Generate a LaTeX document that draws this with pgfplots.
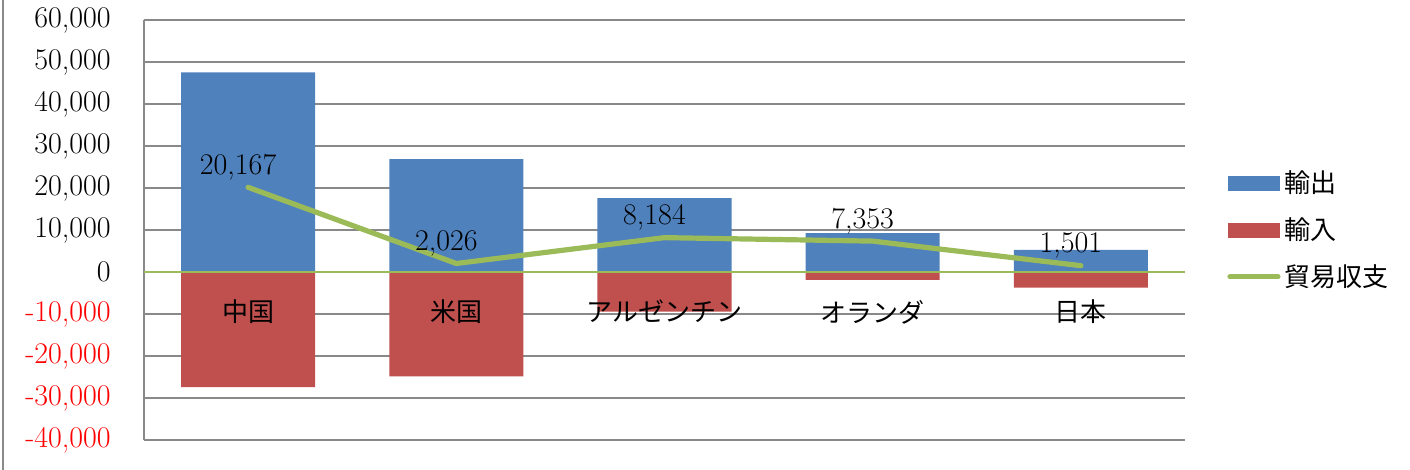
\documentclass[border=0pt]{standalone}
\usepackage{fontspec}
\usepackage{pgfplots}
\pgfplotsset{compat=1.18}
\newfontfamily\jp{Noto Sans CJK JP}
\definecolor{cexp}{HTML}{4F81BD}
\definecolor{cimp}{HTML}{C0504D}
\definecolor{cbal}{HTML}{9BBB59}
\definecolor{cgrid}{HTML}{898989}
\newcommand\numfont{\fontsize{15}{18}\selectfont}
\newcommand\jpfont{\jp\fontsize{13}{15}\selectfont}

\begin{document}
\begin{tikzpicture}
    \path[use as bounding box] (-72pt,-15pt) rectangle (633pt,220pt);
    \draw[cgrid, line width=0.9pt] (-70.5pt,-15pt) -- (-70.5pt,220pt);
    \begin{axis}[
        at={(0,0)}, anchor=south west,
        scale only axis,
        width=520.5pt, height=210pt,
        xmin=-0.5, xmax=4.5,
        ymin=-40000, ymax=60000,
        axis x line=middle,
        axis y line=left,
        x axis line style={draw=none},
        y axis line style={-, draw=cgrid, line width=0.9pt},
        ymajorgrids,
        grid style={draw=cgrid, line width=0.9pt},
        xtick=\empty,
        xtick style={draw=none}, ytick style={draw=none},
        scaled y ticks=false,
        ytick={-40000,-30000,-20000,-10000,0,10000,20000,30000,40000,50000,60000},
        yticklabels={\textcolor{red}{-40,000}, \textcolor{red}{-30,000}, \textcolor{red}{-20,000}, \textcolor{red}{-10,000}, 0, {10,000}, {20,000}, {30,000}, {40,000}, {50,000}, {60,000}},
        y tick label style={font=\numfont, anchor=east, xshift=-11pt},
        legend style={draw=none, fill=none, at={(1,0.5)}, anchor=west, xshift=21pt,
            font=\jpfont, row sep=7pt, inner sep=0pt},
        legend cell align=left,
    ]
        % 輸出
        \addplot[ybar, bar width=0.644, bar shift=0pt, fill=cexp, draw=none,
            legend image code/.code={\fill[cexp] (0pt,-3.75pt) rectangle (26pt,3.75pt);}]
            coordinates {(0,47550) (1,26850) (2,17600) (3,9250) (4,5250)};
        \addlegendentry{輸出}
        % 輸入
        \addplot[ybar, bar width=0.644, bar shift=0pt, fill=cimp, draw=none,
            legend image code/.code={\fill[cimp] (0pt,-3.75pt) rectangle (26pt,3.75pt);}]
            coordinates {(0,-27383) (1,-24824) (2,-9416) (3,-1897) (4,-3749)};
        \addlegendentry{輸入}
        % zero line
        \addplot[cbal, line width=1pt, forget plot] coordinates {(-0.5,0) (4.5,0)};
        % category names
        \addplot[draw=none, forget plot,
            nodes near coords, point meta=explicit symbolic,
            every node near coord/.append style={font=\jpfont, text=black, anchor=north, yshift=-10.5pt}]
            coordinates {(0,0) [中国] (1,0) [米国] (2,0) [アルゼンチン] (3,0) [オランダ] (4,0) [日本]};
        % 貿易収支
        \addplot[cbal, line width=2.6pt, line cap=round, line join=round,
            nodes near coords, point meta=explicit symbolic,
            every node near coord/.append style={font=\numfont, text=black, xshift=-5pt, yshift=-1pt},
            legend image code/.code={\draw[cbal, line width=2.6pt, line cap=round] (1pt,0pt) -- (25pt,0pt);}]
            coordinates {(0,20167) [20,167] (1,2026) [2,026] (2,8184) [8,184] (3,7353) [7,353] (4,1501) [1,501]};
        \addlegendentry{貿易収支}
    \end{axis}
\end{tikzpicture}
\end{document}
